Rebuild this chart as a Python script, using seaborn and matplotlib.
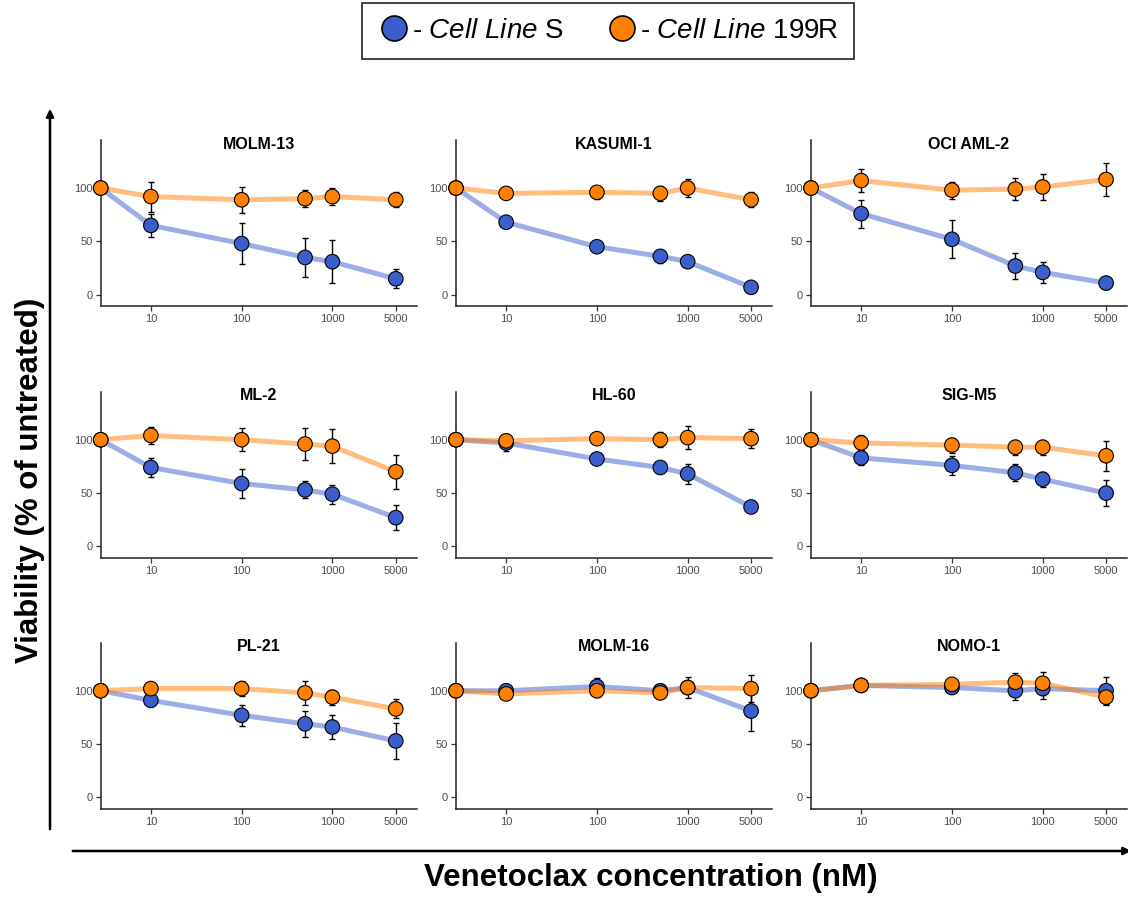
import matplotlib
matplotlib.use("Agg")
import pandas as pd
import seaborn as sns
from matplotlib import pyplot as plt
from matplotlib.lines import Line2D
from matplotlib.patches import FancyArrowPatch

# --- data ---
cell_lines = ['MOLM-13', 'KASUMI-1', 'OCI AML-2', 'ML-2', 'HL-60', 'SIG-M5',
              'PL-21', 'MOLM-16', 'NOMO-1']
conc = [2.8, 10, 100, 500, 1000, 5000]   # first value = untreated control
conc_ticks = [10, 100, 1000, 5000]

s_mean = {
    'MOLM-13':   [100, 65, 48, 35, 31, 15],
    'KASUMI-1':  [100, 68, 45, 36, 31, 7],
    'OCI AML-2': [100, 76, 52, 27, 21, 11],
    'ML-2':      [100, 74, 59, 53, 49, 27],
    'HL-60':     [100, 97, 82, 74, 68, 37],
    'SIG-M5':    [100, 83, 76, 69, 63, 50],
    'PL-21':     [100, 91, 77, 69, 66, 53],
    'MOLM-16':   [100, 100, 104, 100, 103, 81],
    'NOMO-1':    [100, 105, 103, 100, 102, 100],
}
s_sd = {
    'MOLM-13':   [0, 11, 19, 18, 20, 9],
    'KASUMI-1':  [0, 2, 2, 6, 3, 1],
    'OCI AML-2': [0, 13, 18, 12, 10, 6],
    'ML-2':      [0, 9, 14, 8, 9, 12],
    'HL-60':     [0, 8, 2, 2, 9, 2],
    'SIG-M5':    [0, 7, 9, 8, 7, 12],
    'PL-21':     [0, 2, 10, 12, 11, 17],
    'MOLM-16':   [0, 2, 8, 3, 5, 19],
    'NOMO-1':    [0, 2, 2, 9, 10, 13],
}
r_mean = {
    'MOLM-13':   [100, 92, 89, 90, 92, 89],
    'KASUMI-1':  [100, 95, 96, 95, 100, 89],
    'OCI AML-2': [100, 107, 98, 99, 101, 108],
    'ML-2':      [100, 104, 100, 96, 94, 70],
    'HL-60':     [100, 99, 101, 100, 102, 101],
    'SIG-M5':    [100, 97, 95, 93, 93, 85],
    'PL-21':     [100, 102, 102, 98, 94, 83],
    'MOLM-16':   [100, 97, 100, 98, 103, 102],
    'NOMO-1':    [100, 105, 106, 108, 107, 94],
}
r_sd = {
    'MOLM-13':   [0, 14, 12, 8, 8, 7],
    'KASUMI-1':  [0, 2, 6, 7, 8, 7],
    'OCI AML-2': [0, 11, 8, 10, 12, 15],
    'ML-2':      [0, 8, 11, 15, 16, 16],
    'HL-60':     [0, 5, 5, 7, 11, 9],
    'SIG-M5':    [0, 7, 7, 7, 7, 14],
    'PL-21':     [0, 2, 7, 11, 7, 9],
    'MOLM-16':   [0, 2, 6, 5, 10, 13],
    'NOMO-1':    [0, 3, 3, 9, 11, 6],
}

groups = ['S', '199R']
point_colors = {'S': '#3A5FCD', '199R': '#FF7F00'}

rows = []
for name in cell_lines:
    for g, m, sd in (('S', s_mean, s_sd), ('199R', r_mean, r_sd)):
        for c, v, e in zip(conc, m[name], sd[name]):
            rows.append({'cell': name, 'group': g, 'conc': c, 'viab': v, 'sd': e})
df = pd.DataFrame(rows)

sns.set_style('white')
plt.rcParams['font.family'] = ['Liberation Sans', 'DejaVu Sans']
plt.rcParams['text.color'] = 'black'
plt.rcParams['mathtext.fontset'] = 'custom'
plt.rcParams['mathtext.rm'] = 'Liberation Sans'
plt.rcParams['mathtext.it'] = 'Liberation Sans:italic'

W, H = 1128, 897
fig = plt.figure(figsize=(W / 100, H / 100), dpi=100)

col_left = [100.7, 456, 811]
row_top = [140, 391.7, 642.7]
pw, ph = 316, 166

for i, name in enumerate(cell_lines):
    r, c = divmod(i, 3)
    ax = fig.add_axes([col_left[c] / W, 1 - (row_top[r] + ph) / H, pw / W, ph / H])
    sub = df[df['cell'] == name]

    sns.lineplot(data=sub, x='conc', y='viab', hue='group', palette=point_colors,
                 hue_order=groups, alpha=0.5, lw=3.6, sort=False, errorbar=None,
                 legend=False, ax=ax, zorder=1)
    for g in groups:
        d = sub[sub['group'] == g]
        ax.errorbar(d['conc'][1:], d['viab'][1:], yerr=d['sd'][1:], fmt='none',
                    ecolor='black', elinewidth=1, capsize=2.5, capthick=1, zorder=2)
    sns.scatterplot(data=sub, x='conc', y='viab', hue='group', palette=point_colors,
                    hue_order=groups, s=110, edgecolor='black', linewidth=0.8,
                    legend=False, ax=ax, zorder=3)
    for coll in ax.collections:
        coll.set_clip_on(False)

    ax.set_xscale('log')
    ax.set_xlim(2.8, 8500)
    ax.set_ylim(-10.5, 145)
    ax.set_xticks(conc_ticks)
    ax.set_xticklabels([str(t) for t in conc_ticks])
    ax.minorticks_off()
    ax.set_yticks([0, 50, 100])
    ax.set_xlabel('')
    ax.set_ylabel('')
    sns.despine(ax=ax)
    for sp in ('left', 'bottom'):
        ax.spines[sp].set_color('#222222')
        ax.spines[sp].set_linewidth(1.1)
    ax.tick_params(axis='both', direction='out', length=3.5, width=0.9,
                   color='#333333', labelcolor='#4D4D4D', labelsize=8, pad=2.5,
                   bottom=True, left=True)
    ax.text(0.5, 0.975, name, transform=ax.transAxes, ha='center', va='center',
            fontsize=11.5, fontweight='bold', color='black')

# axis arrows
fig.add_artist(FancyArrowPatch((50 / W, 1 - 832 / H), (50 / W, 1 - 106 / H),
                               transform=fig.transFigure, arrowstyle='-|>',
                               mutation_scale=11, lw=1.8, color='black'))
fig.add_artist(FancyArrowPatch((70 / W, 1 - 851 / H), (1134 / W, 1 - 851 / H),
                               transform=fig.transFigure, arrowstyle='-|>',
                               mutation_scale=11, lw=1.8, color='black'))

fig.text(30 / W, 1 - 480 / H, 'Viability (% of untreated)', rotation=90,
         ha='center', va='center', fontsize=22.5, fontweight='bold', color='black')
fig.text(651 / W, 1 - 878 / H, 'Venetoclax concentration (nM)',
         ha='center', va='center', fontsize=22.5, fontweight='bold', color='black')

handles = [Line2D([], [], ls='none', marker='o', markersize=18,
                  markerfacecolor=point_colors[g], markeredgecolor='black',
                  markeredgewidth=1.2) for g in groups]
labels = [r'- $\mathit{Cell\ Line}$ S', r'- $\mathit{Cell\ Line}$ 199R']
leg = fig.legend(handles, labels, loc='center', bbox_to_anchor=(608 / W, 1 - 31 / H),
                 ncol=2, frameon=True, fancybox=False, fontsize=20,
                 handletextpad=0.05, columnspacing=1.5, borderpad=0.55,
                 handlelength=1.2, borderaxespad=0)
leg.get_frame().set_edgecolor('black')
leg.get_frame().set_linewidth(1.3)
for t in leg.get_texts():
    t.set_color('black')

fig.savefig('out.png', dpi=100)
